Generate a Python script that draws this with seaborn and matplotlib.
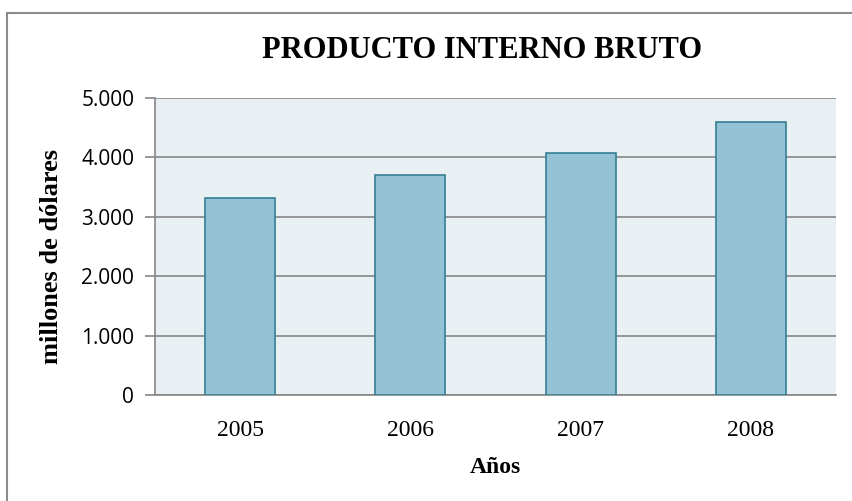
import pandas as pd
import seaborn as sns
import matplotlib.pyplot as plt
from matplotlib.patches import Rectangle
from matplotlib.ticker import FuncFormatter

years = ['2005', '2006', '2007', '2008']
pib = [3310, 3700, 4080, 4590]

df = pd.DataFrame({'anio': years, 'pib': pib})

sns.set_theme(style="white")
plt.rcParams['font.family'] = ['Liberation Serif', 'DejaVu Serif']
plt.rcParams['text.color'] = 'black'
plt.rcParams['axes.labelcolor'] = 'black'
plt.rcParams['xtick.color'] = 'black'
plt.rcParams['ytick.color'] = 'black'

fig = plt.figure(figsize=(8.53, 5.01), dpi=100)
ax = fig.add_axes([155/853, 1 - 395/501, (836-155)/853, (395-98)/501])

sns.barplot(data=df, x='anio', y='pib', ax=ax, width=0.41,
            color='#93C2D4', edgecolor='#357F93', linewidth=1.2,
            saturation=1, zorder=3)

ax.set_facecolor('#E8F0F4')
ax.set_ylim(0, 5000)
ax.set_yticks([0, 1000, 2000, 3000, 4000, 5000])
ax.yaxis.set_major_formatter(FuncFormatter(lambda v, p: f'{int(v):,}'.replace(',', '.')))
ax.grid(axis='y', color='#868686', linewidth=1.2, zorder=0)
ax.set_axisbelow(True)
for s in ['top', 'right']:
    ax.spines[s].set_visible(False)
ax.spines['left'].set_color('#868686')
ax.spines['bottom'].set_color('#868686')
ax.spines['left'].set_linewidth(1.2)
ax.spines['bottom'].set_linewidth(1.2)
ax.tick_params(axis='y', length=7, color='#868686', width=1.2, pad=8, left=True)
ax.tick_params(axis='x', length=0, pad=18)
for lab in ax.get_yticklabels():
    lab.set_family(['Open Sans', 'DejaVu Sans'])
    lab.set_fontsize(15)
for lab in ax.get_xticklabels():
    lab.set_fontsize(17)

ax.set_xlabel('Años', fontsize=17, fontweight='bold')
ax.set_ylabel('millones de dólares', fontsize=19, fontweight='bold')
ax.yaxis.set_label_coords(-(155 - 63) / (836 - 155), (395 - 257) / (395 - 98))
ax.xaxis.set_label_coords(0.5, -(457 - 395) / (395 - 98))
fig.text(482/853, 1 - 50/501, 'PRODUCTO INTERNO BRUTO', ha='center', va='center',
         fontsize=22, fontweight='bold')

fig.patches.append(Rectangle((7/853, -0.1), 1.1, 1 - 13/501 + 0.1, transform=fig.transFigure,
                             fill=False, edgecolor='#8C8C8C', linewidth=1.5))

fig.savefig('out.png', dpi=100)
